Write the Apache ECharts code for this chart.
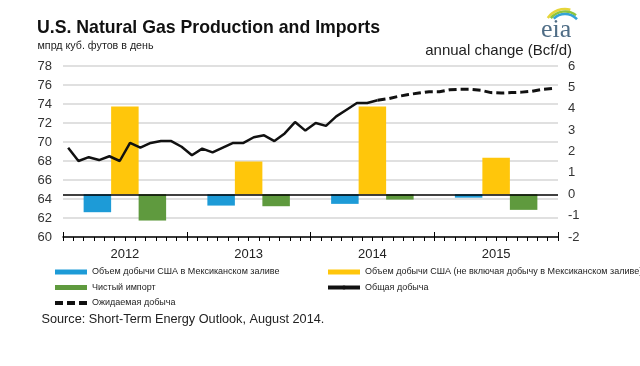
<!DOCTYPE html>
<html>
<head>
<meta charset="utf-8">
<script src="https://cdn.jsdelivr.net/npm/echarts@6/dist/echarts.min.js"></script>
<style>html,body{margin:0;padding:0;background:#fff}#c{width:640px;height:366px}</style>
</head>
<body>
<div id="c"></div>
<script>
// ---- data ----
const months = [
 '2012-01','2012-02','2012-03','2012-04','2012-05','2012-06','2012-07','2012-08','2012-09','2012-10','2012-11','2012-12',
 '2013-01','2013-02','2013-03','2013-04','2013-05','2013-06','2013-07','2013-08','2013-09','2013-10','2013-11','2013-12',
 '2014-01','2014-02','2014-03','2014-04','2014-05','2014-06','2014-07','2014-08','2014-09','2014-10','2014-11','2014-12',
 '2015-01','2015-02','2015-03','2015-04','2015-05','2015-06','2015-07','2015-08','2015-09','2015-10','2015-11','2015-12'
];
const years = ['2012','2013','2014','2015'];
// Total production (actual), bcf/d
const totalProduction = [
 69.4, 68.0, 68.4, 68.1, 68.5, 68.0, 69.9, 69.4, 69.9, 70.1, 70.1, 69.5,
 68.6, 69.3, 68.9, 69.4, 69.9, 69.9, 70.5, 70.7, 70.1, 70.9, 72.1, 71.2,
 72.0, 71.7, 72.7, 73.4, 74.1, 74.1, 74.4,
 null, null, null, null, null,
 null, null, null, null, null, null, null, null, null, null, null, null
];
// Expected (forecast) production
const expectedProduction = [
 null, null, null, null, null, null, null, null, null, null, null, null,
 null, null, null, null, null, null, null, null, null, null, null, null,
 null, null, null, null, null, null, 74.4, 74.55, 74.8, 75.0, 75.15, 75.3,
 75.3, 75.5, 75.55, 75.55, 75.45, 75.2, 75.15, 75.2, 75.25, 75.35, 75.55, 75.65
];
// Annual change (Bcf/d)
const gulfChange = [-0.84, -0.53, -0.45, -0.16];
const lower48Change = [4.10, 1.53, 4.10, 1.71];
const netImportsChange = [-1.23, -0.56, -0.25, -0.73];
const leftTicks = {min: 60, max: 78, interval: 2};
const rightTicks = {min: -2, max: 6, interval: 1};

const names = {
  gulf: 'Объем добычи США в Мексиканском заливе',
  lower48: 'Объем добычи США (не включая добычу в Мексиканском заливе)',
  net: 'Чистый импорт',
  total: 'Общая добыча',
  expected: 'Ожидаемая добыча'
};

const FONT = "'Liberation Sans', Arial, sans-serif";
const chart = echarts.init(document.getElementById('c'), null, {renderer: 'canvas'});

const legendCommon = {
  orient: 'vertical', itemWidth: 32, itemHeight: 5, itemGap: 3.5,
  textStyle: {fontFamily: FONT, fontSize: 9, color: '#222', lineHeight: 12},
  lineStyle: {width: 4},
  selectedMode: false, padding: 0
};

chart.setOption({
  animation: false,
  textStyle: {fontFamily: FONT},
  grid: {left: 63, right: 82, top: 66, bottom: 129, containLabel: false},
  legend: [
    Object.assign({left: 53, top: 266, data: [
      {name: names.gulf, icon: 'rect'},
      {name: names.net, icon: 'rect'},
      {name: names.expected}
    ]}, legendCommon),
    Object.assign({left: 326, top: 266, data: [
      {name: names.lower48, icon: 'rect'},
      {name: names.total}
    ]}, legendCommon)
  ],
  xAxis: [
    {
      type: 'category', data: months, boundaryGap: true, position: 'bottom',
      axisLine: {show: true, onZero: false, lineStyle: {color: '#000', width: 1.5}},
      axisTick: {show: true, interval: 0, length: 4, lineStyle: {color: '#000', width: 1}},
      axisLabel: {show: false}, splitLine: {show: false}
    },
    {
      type: 'category', data: years, boundaryGap: true, position: 'bottom',
      axisLine: {show: false, onZero: false},
      axisTick: {show: true, inside: true, interval: 0, length: 5, lineStyle: {color: '#000', width: 1}},
      axisLabel: {show: true, margin: 11, fontSize: 13, color: '#222', fontFamily: FONT},
      splitLine: {show: false}
    }
  ],
  yAxis: [
    {
      type: 'value', min: leftTicks.min, max: leftTicks.max, interval: leftTicks.interval,
      axisLine: {show: false}, axisTick: {show: false},
      axisLabel: {margin: 11, fontSize: 13, color: '#333', fontFamily: FONT},
      splitLine: {show: true, lineStyle: {color: '#d6d6d6', width: 1.5}}
    },
    {
      type: 'value', min: rightTicks.min, max: rightTicks.max, interval: rightTicks.interval,
      position: 'right',
      axisLine: {show: false}, axisTick: {show: false},
      axisLabel: {margin: 10, fontSize: 13, color: '#333', fontFamily: FONT},
      splitLine: {show: false}
    }
  ],
  series: [
    {
      name: names.gulf, type: 'bar', xAxisIndex: 1, yAxisIndex: 1,
      data: gulfChange, barWidth: 27.5, barGap: '0%',
      itemStyle: {color: '#1d9bd7'},
      markLine: {
        silent: true, symbol: ['none', 'none'], label: {show: false},
        lineStyle: {color: '#000', width: 1.5, type: 'solid'},
        data: [{yAxis: 0}]
      }
    },
    {
      name: names.lower48, type: 'bar', xAxisIndex: 1, yAxisIndex: 1,
      data: lower48Change, barWidth: 27.5, barGap: '0%',
      itemStyle: {color: '#ffc60b'}
    },
    {
      name: names.net, type: 'bar', xAxisIndex: 1, yAxisIndex: 1,
      data: netImportsChange, barWidth: 27.5, barGap: '0%',
      itemStyle: {color: '#5f9a3e'}
    },
    {
      name: names.total, type: 'line', xAxisIndex: 0, yAxisIndex: 0,
      data: totalProduction, symbol: 'none', connectNulls: false,
      lineStyle: {color: '#111', width: 2.5}, itemStyle: {color: '#111'}, z: 5
    },
    {
      name: names.expected, type: 'line', xAxisIndex: 0, yAxisIndex: 0,
      data: expectedProduction, symbol: 'none', connectNulls: false,
      lineStyle: {color: '#111', width: 3, type: [8, 4]}, itemStyle: {color: '#111'}, z: 5
    }
  ],
  graphic: [
    {type: 'text', left: 37, top: 19, style: {text: 'U.S. Natural Gas Production and Imports',
      font: "bold 17.7px 'Liberation Sans', Arial, sans-serif", fill: '#111'}},
    {type: 'text', left: 37.5, top: 41, style: {text: 'мпрд куб. футов в день',
      font: "10.7px 'Liberation Sans', Arial, sans-serif", fill: '#222'}},
    {type: 'text', right: 68, top: 43, style: {text: 'annual change (Bcf/d)',
      font: "15px 'Liberation Sans', Arial, sans-serif", fill: '#222'}},
    {type: 'text', left: 41.5, top: 312.5, style: {text: 'Source: Short-Term Energy Outlook, August 2014.',
      font: "12.7px 'Liberation Sans', Arial, sans-serif", fill: '#222'}},
    {type: 'text', left: 541, top: 17, style: {text: 'eia',
      font: "26px 'Liberation Serif', 'DejaVu Serif', serif", fill: '#4f6d86'}},
    {type: 'arc', shape: {cx: 565, cy: 30, r: 21, startAngle: 3.75, endAngle: 4.97},
      style: {stroke: '#e6d53a', lineWidth: 2.5, fill: null}},
    {type: 'arc', shape: {cx: 565, cy: 30, r: 18.5, startAngle: 3.84, endAngle: 5.35},
      style: {stroke: '#8cc43f', lineWidth: 2.5, fill: null}},
    {type: 'arc', shape: {cx: 565, cy: 30, r: 16, startAngle: 3.93, endAngle: 5.55},
      style: {stroke: '#35a2d6', lineWidth: 2.5, fill: null}}
  ]
});
</script>
</body>
</html>
